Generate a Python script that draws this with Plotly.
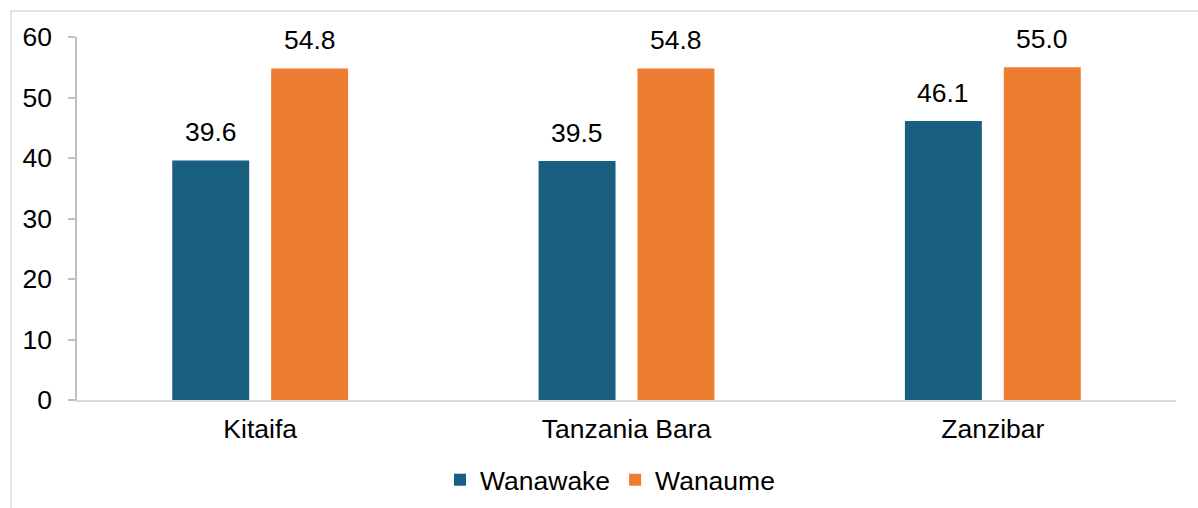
import plotly.graph_objects as go

categories = ["Kitaifa", "Tanzania Bara", "Zanzibar"]
wanawake = [39.6, 39.5, 46.1]
wanaume = [54.8, 54.8, 55.0]
series_names = ["Wanawake", "Wanaume"]
colors = ["#185f80", "#ed7d31"]
y_ticks = [0, 10, 20, 30, 40, 50, 60]

FONT = "Liberation Sans, Arial, sans-serif"
FS = 26.5

fig = go.Figure()
for name, vals, col in zip(series_names, [wanawake, wanaume], colors):
    fig.add_trace(go.Bar(x=categories, y=vals, name=name, marker=dict(color=col, line=dict(width=0))))

annots = []
for vals, shift in [(wanawake, -49.5), (wanaume, 49.5)]:
    for c, v in zip(categories, vals):
        annots.append(dict(x=c, y=v, xref="x", yref="y", text=f"{v:.1f}", showarrow=False,
                           xshift=shift, yshift=11, yanchor="bottom",
                           font=dict(family=FONT, size=FS, color="#000000")))

W, H = 1198, 508
L, R, T, B = 77, 22, 37, 108
pw, ph = W - L - R, H - T - B

def px(x):
    return (x - L) / pw

def py(y):
    return (H - B - y) / ph

fig.update_layout(
    width=W, height=H,
    margin=dict(l=L, r=R, t=T, b=B, pad=0, autoexpand=False),
    paper_bgcolor="white", plot_bgcolor="white",
    font=dict(family=FONT, size=FS, color="#000000"),
    barmode="group", bargap=0.46, bargroupgap=0.222,
    showlegend=True,
    legend=dict(orientation="h", x=px(610), xanchor="center", y=py(480), yanchor="middle",
                font=dict(family=FONT, size=FS), itemwidth=30, traceorder="normal"),
    xaxis=dict(showline=True, linecolor="#d9d9d9", linewidth=1.5, ticks="", showgrid=False,
               tickfont=dict(family=FONT, size=FS), ticklabelstandoff=4, automargin=False),
    yaxis=dict(range=[0, 60], tickvals=y_ticks, showline=True, linecolor="#bfbfbf", linewidth=1.5,
               ticks="outside", ticklen=7, tickcolor="#bfbfbf", tickwidth=1.5, showgrid=False,
               zeroline=False, tickfont=dict(family=FONT, size=FS), ticklabelstandoff=11,
               automargin=False),
    annotations=annots,
    shapes=[dict(type="rect", xref="paper", yref="paper", x0=px(11), x1=px(1210), y0=py(520), y1=py(11),
                 line=dict(color="#d9d9d9", width=1.5), fillcolor="rgba(0,0,0,0)", layer="below")],
)

fig.write_html("out.html", config={"displayModeBar": False},
               post_script="document.body.style.margin='0';")
